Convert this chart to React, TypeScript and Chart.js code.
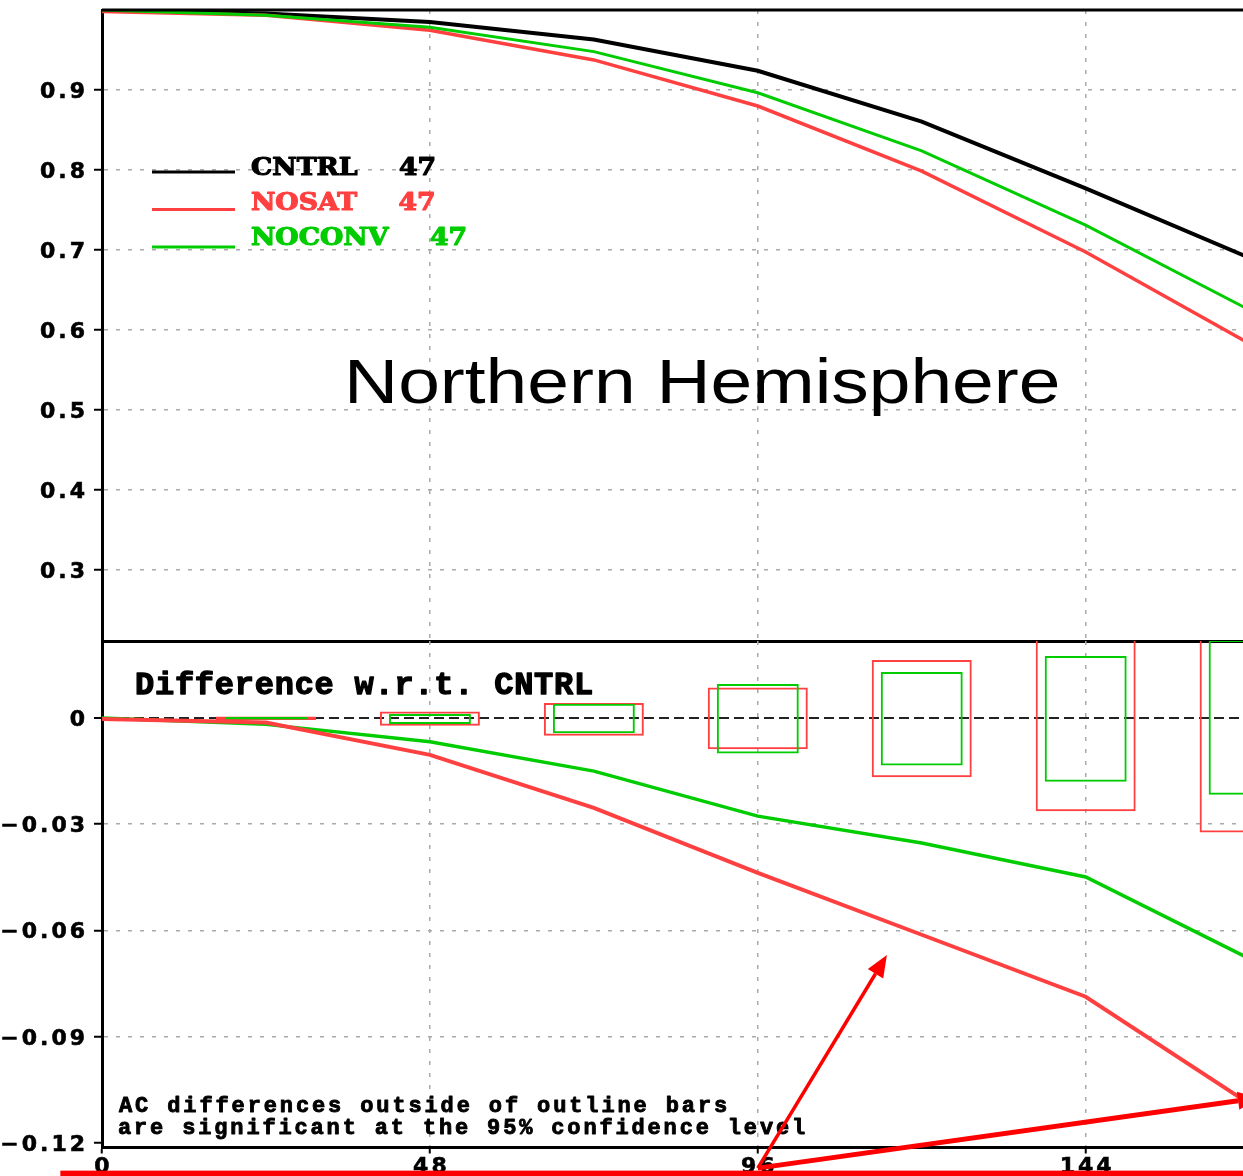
import React, { useEffect, useRef } from 'react';
import { Chart, registerables } from 'chart.js';

Chart.register(...registerables);

// ---------------- data ----------------
const SERIES_NAMES = ['CNTRL', 'NOSAT', 'NOCONV'];
const CASE_COUNT = 47;
const HOURS = [0, 24, 48, 72, 96, 120, 144, 168];
const AC_CNTRL = [1.0, 0.9955, 0.985, 0.963, 0.924, 0.8604, 0.777, 0.69];
const AC_NOSAT = [0.998, 0.9935, 0.9746, 0.9376, 0.88, 0.7985, 0.6975, 0.583];
const AC_NOCONV = [1.0, 0.9935, 0.9783, 0.948, 0.8965, 0.824, 0.731, 0.625];
const DIFF_NOSAT = [-0.0003, -0.0013, -0.0104, -0.0254, -0.0437, -0.0612, -0.0787, -0.109];
const DIFF_NOCONV = [0, -0.0018, -0.0067, -0.015, -0.0277, -0.0353, -0.0449, -0.068];
const BAR_HOURS = [24, 48, 72, 96, 120, 144, 168];
const CONF_NOSAT_LO = [-0.0006, -0.0022, -0.005, -0.0088, -0.0167, -0.0263, -0.0323];
const CONF_NOSAT_HI = [0.0004, 0.0018, 0.0042, 0.0086, 0.0164, 0.0265, 0.032];
const CONF_NOCONV_LO = [-0.0004, -0.0017, -0.0043, -0.01, -0.0134, -0.018, -0.0217];
const CONF_NOCONV_HI = [0.0003, 0.0011, 0.004, 0.0096, 0.013, 0.0175, 0.022];
const AC_TICKS = [0.3, 0.4, 0.5, 0.6, 0.7, 0.8, 0.9];
const DIFF_TICKS = [-0.12, -0.09, -0.06, -0.03, 0];
const HOUR_TICKS = [0, 48, 96, 144];
const TITLE = 'Northern Hemisphere';
const DIFF_LABEL = 'Difference w.r.t. CNTRL';
const NOTE_LINES = ['AC differences outside of outline bars', 'are significant at the 95% confidence level'];

// axis ranges
const X_MIN = 0;
const X_MAX = 167.03;
const AC_MIN = 0.21125;
const AC_MAX = 1.0;
const DIFF_MIN = -0.12127;
const DIFF_MAX = 0.02174;

// ---------------- styles ----------------
const W = 1243;
const TOP_H = 646;
const BOT_TOP = 636;
const BOT_H = 540;
const AXIS_W = 102;
const BLACK = '#000000';
const RED = '#ff4040';
const GREEN = '#00cc00';
const ARROW_RED = '#ff0000';
const GRID = '#a9a9a9';
const SERIES_COLORS = [BLACK, RED, GREEN];
const TICK_FONT = 'bold 22px "DejaVu Sans"';

function fitText(ctx: any, text: string, left: number, right: number, baseline: number, font: string, color: string, mode: 'scale' | 'space', baseSx = 1, weight = 0) {
  ctx.save();
  ctx.font = font;
  ctx.fillStyle = color;
  ctx.strokeStyle = color;
  ctx.textAlign = 'left';
  ctx.textBaseline = 'alphabetic';
  ctx.letterSpacing = '0px';
  const m = ctx.measureText(text);
  const ink = m.actualBoundingBoxLeft + m.actualBoundingBoxRight;
  const target = right - left;
  const n = Array.from(text).length;
  let sx = baseSx;
  let spacing = 0;
  if (mode === 'scale' || n < 2) {
    sx = target / ink;
  } else {
    spacing = (target / sx - ink) / (n - 1);
    if (spacing < 0) {
      spacing = 0;
      sx = target / ink;
    }
  }
  ctx.letterSpacing = spacing + 'px';
  ctx.translate(left + m.actualBoundingBoxLeft * sx, baseline);
  ctx.scale(sx, 1);
  ctx.fillText(text, 0, 0);
  if (weight > 0) {
    ctx.lineWidth = weight;
    ctx.lineJoin = 'round';
    ctx.strokeText(text, 0, 0);
  }
  ctx.restore();
}

function drawScaled(ctx: any, text: string, left: number, baseline: number, font: string, color: string, sx: number, weight = 0) {
  ctx.save();
  ctx.font = font;
  ctx.fillStyle = color;
  ctx.strokeStyle = color;
  ctx.textAlign = 'left';
  ctx.textBaseline = 'alphabetic';
  ctx.letterSpacing = '0px';
  const m = ctx.measureText(text);
  ctx.translate(left + m.actualBoundingBoxLeft * sx, baseline);
  ctx.scale(sx, 1);
  ctx.fillText(text, 0, 0);
  if (weight > 0) {
    ctx.lineWidth = weight;
    ctx.lineJoin = 'round';
    ctx.strokeText(text, 0, 0);
  }
  ctx.restore();
  return left + (m.actualBoundingBoxLeft + m.actualBoundingBoxRight) * sx;
}

function drawTickLabels(ctx: any, chart: any, fmt: (v: number) => string, withX: boolean) {
  const ys = chart.scales.y;
  const sp = 3;
  ctx.save();
  ctx.font = TICK_FONT;
  ctx.fillStyle = BLACK;
  ctx.strokeStyle = BLACK;
  ctx.lineWidth = 0.6;
  ctx.letterSpacing = sp + 'px';
  ctx.textBaseline = 'alphabetic';
  ctx.textAlign = 'right';
  for (const t of ys.ticks) {
    const py = ys.getPixelForValue(t.value);
    ctx.fillText(fmt(t.value), 85 + sp, py + 8);
    ctx.strokeText(fmt(t.value), 85 + sp, py + 8);
  }
  if (withX) {
    const xs = chart.scales.x;
    ctx.textAlign = 'center';
    for (const t of xs.ticks) {
      const px = xs.getPixelForValue(t.value);
      ctx.fillText(String(t.value), px + sp / 2, chart.chartArea.bottom + 25.5);
      ctx.strokeText(String(t.value), px + sp / 2, chart.chartArea.bottom + 25.5);
    }
  }
  ctx.restore();
}

const topDecor = {
  id: 'topDecor',
  afterDraw(chart: any) {
    const ctx = chart.ctx;
    const a = chart.chartArea;
    // top frame line
    ctx.save();
    ctx.strokeStyle = BLACK;
    ctx.lineWidth = 3;
    ctx.beginPath();
    ctx.moveTo(a.left, a.top);
    ctx.lineTo(a.right, a.top);
    ctx.stroke();
    ctx.restore();

    drawTickLabels(ctx, chart, (v) => v.toFixed(1), false);

    // legend
    const legFont = 'bold 25px "DejaVu Serif"';
    ctx.save();
    ctx.font = legFont;
    const m0 = ctx.measureText(SERIES_NAMES[0]);
    const sx = 106 / (m0.actualBoundingBoxLeft + m0.actualBoundingBoxRight);
    ctx.restore();
    chart.data.datasets.forEach((ds: any, i: number) => {
      const ly = 172 + 37.5 * i;
      ctx.save();
      ctx.strokeStyle = SERIES_COLORS[i];
      ctx.lineWidth = 3;
      ctx.beginPath();
      ctx.moveTo(152, ly);
      ctx.lineTo(235, ly);
      ctx.stroke();
      ctx.restore();
      const base = 175 + 35 * i;
      const right = drawScaled(ctx, ds.label, 252, base, legFont, SERIES_COLORS[i], sx, 1.2);
      drawScaled(ctx, String(CASE_COUNT), right + 42, base, legFont, SERIES_COLORS[i], sx, 1.2);
    });

    // panel title
    fitText(ctx, TITLE, 350, 1058, 403, '63px "Liberation Sans"', BLACK, 'scale');
  },
};

function arrow(ctx: any, x1: number, y1: number, x2: number, y2: number, w: number) {
  const ang = Math.atan2(y2 - y1, x2 - x1);
  const hl = 22;
  const hw = 9;
  const bx = x2 - hl * Math.cos(ang);
  const by = y2 - hl * Math.sin(ang);
  ctx.save();
  ctx.strokeStyle = ARROW_RED;
  ctx.fillStyle = ARROW_RED;
  ctx.lineWidth = w;
  ctx.beginPath();
  ctx.moveTo(x1, y1);
  ctx.lineTo(bx, by);
  ctx.stroke();
  ctx.beginPath();
  ctx.moveTo(x2, y2);
  ctx.lineTo(bx + hw * Math.sin(ang), by - hw * Math.cos(ang));
  ctx.lineTo(bx - hw * Math.sin(ang), by + hw * Math.cos(ang));
  ctx.closePath();
  ctx.fill();
  ctx.restore();
}

const bottomDecor = {
  id: 'bottomDecor',
  afterDraw(chart: any) {
    const ctx = chart.ctx;
    const xs = chart.scales.x;
    const ys = chart.scales.y;
    const off = BOT_TOP;

    drawTickLabels(ctx, chart, (v) => (v === 0 ? '0' : (v < 0 ? '\u2212' : '') + Math.abs(v).toFixed(2)), true);

    fitText(ctx, DIFF_LABEL, 137, 592, 694 - off, 'bold 32px "Liberation Mono"', BLACK, 'space', 1, 1.3);
    fitText(ctx, NOTE_LINES[0], 119, 726, 1111.5 - off, 'bold 22px "Liberation Mono"', BLACK, 'space', 1, 0.9);
    fitText(ctx, NOTE_LINES[1], 119, 805, 1134 - off, 'bold 22px "Liberation Mono"', BLACK, 'space', 1, 0.9);

    // presenter annotations (anchored in data units)
    ctx.save();
    ctx.fillStyle = ARROW_RED;
    const ux = xs.getPixelForValue(-6.1);
    const uy = ys.getPixelForValue(-0.1278);
    ctx.fillRect(ux, uy, W - ux, 12);
    ctx.restore();
    const ox = xs.getPixelForValue(96);
    const oy = ys.getPixelForValue(-0.1271);
    arrow(ctx, ox, oy, xs.getPixelForValue(114.9), ys.getPixelForValue(-0.0669), 3.5);
    arrow(ctx, ox, oy, xs.getPixelForValue(169.5), ys.getPixelForValue(-0.1072), 5);
  },
};

const pts = (xs: number[], ys: number[]) => xs.map((x, i) => ({ x, y: ys[i] }));
const rng = (xs: number[], lo: number[], hi: number[]) => xs.map((x, i) => ({ x, y: [lo[i], hi[i]] }));
const setTicks = (vals: number[]) => (s: any) => {
  s.ticks = vals.map((v) => ({ value: v }));
};

function topConfig(): any {
  const acs = [AC_CNTRL, AC_NOSAT, AC_NOCONV];
  const widths = [4, 3.5, 3];
  return {
    type: 'line',
    data: {
      datasets: SERIES_NAMES.map((name, i) => ({
        label: name,
        data: pts(HOURS, acs[i]),
        borderColor: SERIES_COLORS[i],
        backgroundColor: SERIES_COLORS[i],
        borderWidth: widths[i],
        pointRadius: 0,
        tension: 0,
        order: 3 - i,
      })),
    },
    options: {
      animation: false,
      responsive: false,
      devicePixelRatio: 1,
      events: [],
      layout: { padding: { top: 10, bottom: 5, left: 0, right: 0 } },
      plugins: { legend: { display: false }, tooltip: { enabled: false } },
      scales: {
        x: {
          type: 'linear',
          min: X_MIN,
          max: X_MAX,
          afterBuildTicks: setTicks(HOUR_TICKS),
          afterFit: (s: any) => {
            s.height = 0;
          },
          ticks: { display: false },
          grid: {
            color: (c: any) => (c.tick && c.tick.value === 0 ? 'rgba(0,0,0,0)' : GRID),
            lineWidth: 1.5,
            drawTicks: false,
          },
          border: { display: true, color: BLACK, width: 3, dash: [4, 8] },
        },
        y: {
          type: 'linear',
          min: AC_MIN,
          max: AC_MAX,
          afterBuildTicks: setTicks(AC_TICKS),
          afterFit: (s: any) => {
            s.width = AXIS_W;
          },
          ticks: { display: false },
          grid: { color: GRID, lineWidth: 1.5, drawTicks: true, tickLength: 8, tickColor: BLACK, tickWidth: 2 },
          border: { display: true, color: BLACK, width: 3, dash: [4, 8] },
        },
      },
    },
    plugins: [topDecor],
  };
}

function bottomConfig(): any {
  return {
    type: 'bar',
    data: {
      datasets: [
        {
          type: 'bar',
          label: 'NOSAT',
          data: rng(BAR_HOURS, CONF_NOSAT_LO, CONF_NOSAT_HI),
          backgroundColor: 'rgba(0,0,0,0)',
          borderColor: RED,
          borderWidth: 2,
          borderSkipped: false,
          grouped: false,
          barPercentage: 0.61,
          categoryPercentage: 1,
          order: 4,
        },
        {
          type: 'bar',
          label: 'NOCONV',
          data: rng(BAR_HOURS, CONF_NOCONV_LO, CONF_NOCONV_HI),
          backgroundColor: 'rgba(0,0,0,0)',
          borderColor: GREEN,
          borderWidth: 2,
          borderSkipped: false,
          grouped: false,
          barPercentage: 0.5,
          categoryPercentage: 1,
          order: 3,
        },
        {
          type: 'line',
          label: 'NOSAT',
          data: pts(HOURS, DIFF_NOSAT),
          borderColor: RED,
          borderWidth: 4,
          pointRadius: 0,
          tension: 0,
          order: 1,
        },
        {
          type: 'line',
          label: 'NOCONV',
          data: pts(HOURS, DIFF_NOCONV),
          borderColor: GREEN,
          borderWidth: 3.5,
          pointRadius: 0,
          tension: 0,
          order: 2,
        },
      ],
    },
    options: {
      animation: false,
      responsive: false,
      devicePixelRatio: 1,
      events: [],
      layout: { padding: { top: 5, bottom: 0, left: 0, right: 0 } },
      plugins: { legend: { display: false }, tooltip: { enabled: false } },
      scales: {
        x: {
          type: 'linear',
          min: X_MIN,
          max: X_MAX,
          offset: false,
          afterBuildTicks: setTicks(HOUR_TICKS),
          afterFit: (s: any) => {
            s.height = 28.5;
          },
          ticks: { display: false },
          grid: {
            offset: false,
            color: (c: any) => (c.tick && c.tick.value === 0 ? 'rgba(0,0,0,0)' : GRID),
            lineWidth: 1.5,
            drawTicks: true,
            tickLength: 6,
            tickColor: BLACK,
            tickWidth: 2,
          },
          border: { display: true, color: BLACK, width: 3, dash: [4, 8] },
        },
        y: {
          type: 'linear',
          min: DIFF_MIN,
          max: DIFF_MAX,
          beginAtZero: false,
          afterBuildTicks: setTicks(DIFF_TICKS),
          afterFit: (s: any) => {
            s.width = AXIS_W;
          },
          ticks: { display: false },
          grid: {
            color: (c: any) => {
              const v = c.tick ? c.tick.value : null;
              if (v === 0) return '#222222';
              if (v !== null && v < -0.115) return 'rgba(0,0,0,0)';
              return GRID;
            },
            lineWidth: (c: any) => (c.tick && c.tick.value === 0 ? 2 : 1.5),
            drawTicks: true,
            tickLength: 8,
            tickColor: BLACK,
            tickWidth: 2,
          },
          border: {
            display: true,
            color: BLACK,
            width: 3,
            dash: (c: any) => (c.tick && c.tick.value === 0 ? [10, 5] : [4, 8]),
          },
        },
      },
    },
    plugins: [bottomDecor],
  };
}

export default function App() {
  const topRef = useRef<HTMLCanvasElement>(null);
  const botRef = useRef<HTMLCanvasElement>(null);
  useEffect(() => {
    const c1 = new Chart(topRef.current as HTMLCanvasElement, topConfig());
    const c2 = new Chart(botRef.current as HTMLCanvasElement, bottomConfig());
    return () => {
      c1.destroy();
      c2.destroy();
    };
  }, []);
  return (
    <div style={{ position: 'absolute', left: 0, top: 0, width: W, height: 1176, background: '#ffffff', overflow: 'hidden' }}>
      <canvas ref={topRef} width={W} height={TOP_H} style={{ position: 'absolute', left: 0, top: 0, display: 'block' }} />
      <canvas ref={botRef} width={W} height={BOT_H} style={{ position: 'absolute', left: 0, top: BOT_TOP, display: 'block' }} />
    </div>
  );
}
